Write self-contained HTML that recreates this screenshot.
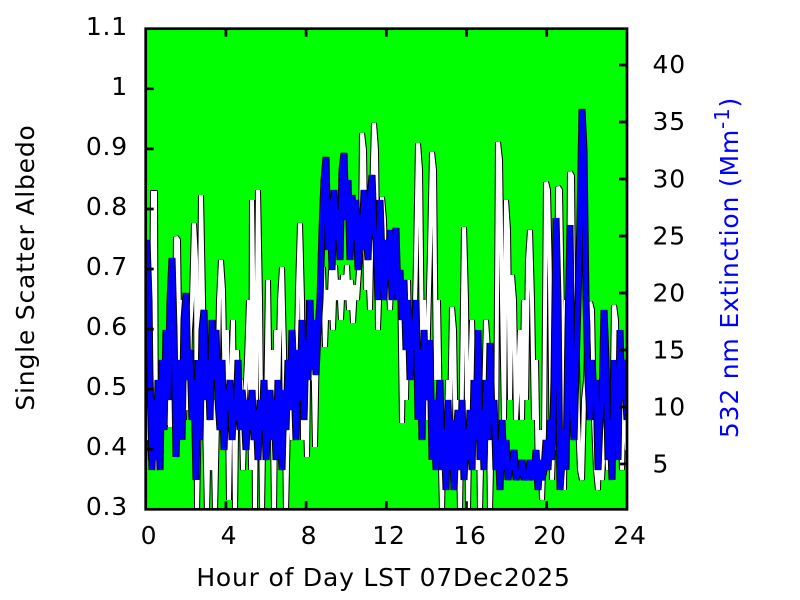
<!DOCTYPE html>
<html><head><meta charset="utf-8"><style>html,body{margin:0;padding:0;background:#fff}svg{display:block}</style></head>
<body>
<svg width="800" height="600" viewBox="0 0 800 600" xmlns="http://www.w3.org/2000/svg" xmlns:xlink="http://www.w3.org/1999/xlink" font-family="DejaVu Sans, Liberation Sans, sans-serif" font-size="25" letter-spacing="0.8">
<defs>
<clipPath id="c"><rect x="145.7" y="28.7" width="481.3" height="480.6"/></clipPath>
<polyline id="w" points="145,400 147,440 149,420 151,460 153,193 155,193 156,470 158,420 160,380 162,427 164,375 166,425 168,380 170,427 172,400 174,420 176,237 178,240 180,400 182,300 184,420 186,360 188,410 190,330 192,300 194,223 196,260 197,512 199,400 201,195 203,300 205,420 207,512 209,420 211,470 213,400 215,512 217,420 219,300 221,260 223,290 225,400 227,330 229,500 231,380 233,320 235,512 237,350 239,420 241,380 243,470 245,400 247,360 249,300 251,470 252,200 254,350 255,512 256,400 258,190 260,300 262,512 264,380 266,420 268,280 270,420 272,350 274,512 276,330 278,400 280,300 282,267 284,350 286,512 288,420 290,370 292,440 294,350 296,400 298,290 300,223 302,300 303,440 305,380 307,457 309,300 311,380 313,330 315,447 317,340 319,330 321,300 323,267 325,347 327,290 329,320 331,270 333,330 335,265 337,300 339,280 341,320 343,275 345,300 347,265 349,310 351,280 353,323 355,285 357,300 359,270 361,240 362,133 364,150 366,290 368,260 370,310 372,200 374,123 376,150 378,330 380,270 382,197 384,220 386,300 388,260 390,310 392,270 394,290 396,240 398,300 400,270 402,423 404,300 406,400 408,280 410,380 412,330 414,350 416,260 418,143 420,170 422,350 424,300 426,420 428,330 430,250 432,152 434,170 436,380 438,300 440,420 442,512 444,400 446,470 448,380 450,420 452,307 454,330 456,460 458,400 460,512 462,380 464,227 466,300 468,512 470,380 472,320 474,400 476,470 478,350 480,512 482,420 484,400 486,320 488,350 490,512 492,420 494,380 496,450 498,142 500,160 502,300 504,420 506,200 508,230 510,400 512,275 514,300 516,420 518,380 520,330 522,420 524,300 526,400 528,260 530,230 532,300 534,420 536,360 538,480 540,430 542,500 544,440 546,182 548,190 550,280 552,480 554,420 556,450 558,187 560,190 562,320 564,490 566,300 568,420 570,172 572,176 574,400 576,300 578,420 580,470 582,480 584,400 586,380 588,320 590,302 592,310 594,420 596,470 598,490 600,400 602,480 604,440 606,420 608,470 610,400 612,450 614,305 616,320 618,440 620,400 622,470 624,380 627,450"/>
<polyline id="b" points="145,350 147,240 149,300 150,380 152,470 154,400 156,460 158,380 160,470 162,360 164,430 166,330 168,400 170,300 172,258 174,330 176,457 178,400 180,360 182,440 184,320 186,293 188,380 190,350 192,420 194,380 196,480 198,360 200,440 202,330 204,310 206,400 208,360 210,420 212,320 214,380 216,330 218,400 220,430 222,360 224,450 226,390 228,410 230,380 232,440 234,400 236,420 238,360 240,430 242,390 244,410 246,450 248,400 250,430 252,390 254,440 256,410 258,460 260,400 262,430 264,380 266,460 268,420 270,390 272,440 274,400 276,460 278,380 280,420 282,470 284,390 286,430 288,360 290,410 292,330 294,380 296,440 298,350 300,400 302,320 304,420 306,340 308,380 310,300 312,370 314,320 316,375 318,330 320,300 322,230 324,180 326,157 328,250 330,200 332,270 334,190 336,240 338,210 340,260 342,170 344,153 346,220 348,180 350,260 352,195 354,240 356,200 358,270 360,215 362,250 364,190 366,230 368,260 370,200 372,175 374,230 376,240 378,300 380,200 382,260 384,300 386,240 388,280 390,230 392,300 394,250 396,228 398,300 400,270 402,320 404,280 406,350 408,300 410,380 412,320 414,350 416,300 418,420 420,350 422,440 424,330 426,400 428,380 430,340 432,460 434,400 436,470 438,420 440,380 442,470 444,430 446,490 448,400 450,470 452,420 454,490 456,440 458,410 460,470 462,400 464,480 466,430 468,460 470,410 472,470 474,380 476,440 478,330 480,460 482,410 484,470 486,380 488,440 490,343 492,420 494,400 496,470 498,440 500,490 502,420 504,470 506,440 508,480 510,460 512,470 514,450 516,480 518,470 520,475 522,460 524,480 526,470 528,480 530,460 532,470 534,480 536,450 538,490 540,460 542,480 544,470 546,440 548,470 550,420 552,460 554,380 556,218 558,300 560,490 562,460 564,430 566,470 568,330 570,225 572,400 574,440 576,370 578,300 580,220 582,109 584,150 586,300 588,380 590,420 592,360 594,400 596,380 598,470 600,420 602,400 604,310 606,360 608,460 610,420 612,480 614,360 616,400 618,460 620,330 622,400 624,360 627,420"/>
</defs>
<rect width="800" height="600" fill="#fff"/>
<rect x="145.7" y="28.7" width="481.3" height="480.6" fill="#00ff00"/>
<g clip-path="url(#c)" fill="none" stroke-linejoin="miter" stroke-miterlimit="2">
<g stroke="#000" stroke-width="6"><use href="#w" xlink:href="#w"/></g>
<g stroke="#ffffff" stroke-width="4"><use href="#w" xlink:href="#w"/></g>
<g stroke="#000" stroke-width="7"><use href="#b" xlink:href="#b"/></g>
<g stroke="#0000ff" stroke-width="5"><use href="#b" xlink:href="#b"/></g>
</g>
<g stroke="#000" stroke-width="2.7" fill="none">
<rect x="145.7" y="28.7" width="481.3" height="480.6"/>
<path d="M145.7 88.8h8M145.7 148.9h8M145.7 209h8M145.7 269h8M145.7 329.1h8M145.7 389.2h8M145.7 449.2h8
M627 65h-8M627 122h-8M627 179h-8M627 236h-8M627 293h-8M627 350h-8M627 407h-8M627 464h-8
M225.9 509.3v-8M306.1 509.3v-8M386.3 509.3v-8M466.5 509.3v-8M546.7 509.3v-8
M225.9 28.7v8M306.1 28.7v8M386.3 28.7v8M466.5 28.7v8M546.7 28.7v8"/>
</g>
<g fill="#000" text-anchor="end">
<text x="128" y="35">1.1</text>
<text x="128" y="95">1</text>
<text x="128" y="155">0.9</text>
<text x="128" y="215">0.8</text>
<text x="128" y="275">0.7</text>
<text x="128" y="335">0.6</text>
<text x="128" y="395">0.5</text>
<text x="128" y="455">0.4</text>
<text x="128" y="515">0.3</text>
</g>
<g fill="#000" text-anchor="middle">
<text x="149" y="544">0</text>
<text x="229" y="544">4</text>
<text x="309" y="544">8</text>
<text x="389" y="544">12</text>
<text x="470" y="544">16</text>
<text x="550" y="544">20</text>
<text x="630" y="544">24</text>
</g>
<g fill="#000">
<text x="652.5" y="73">40</text>
<text x="652.5" y="130">35</text>
<text x="652.5" y="187.5">30</text>
<text x="652.5" y="244.5">25</text>
<text x="652.5" y="301.5">20</text>
<text x="652.5" y="358.5">15</text>
<text x="652.5" y="415.5">10</text>
<text x="652.5" y="472.5">5</text>
</g>
<text x="383.5" y="586" text-anchor="middle" fill="#000">Hour of Day LST 07Dec2025</text>
<text transform="translate(34,267.5) rotate(-90)" text-anchor="middle" fill="#000">Single Scatter Albedo</text>
<text transform="translate(738,267.5) rotate(-90)" text-anchor="middle" fill="#0000ff">532 nm Extinction (Mm<tspan font-size="20" dy="-9">-1</tspan><tspan dy="9">)</tspan></text>
</svg>
</body></html>
